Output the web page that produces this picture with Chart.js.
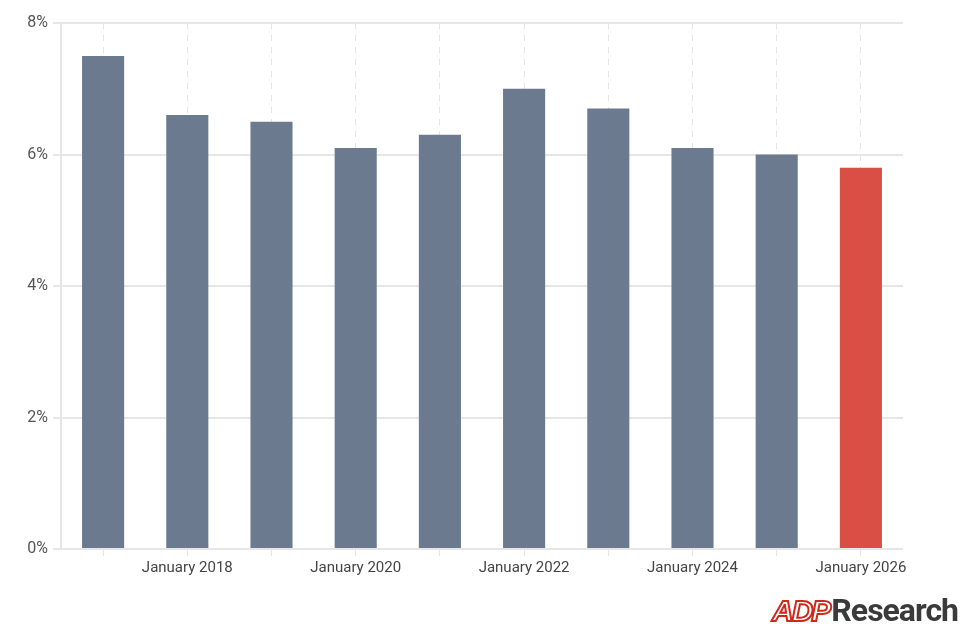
<!DOCTYPE html>
<html>
<head>
<meta charset="utf-8">
<script src="https://cdn.jsdelivr.net/npm/chart.js@4.4.1/dist/chart.umd.min.js"></script>
<style>
    html, body { margin: 0; padding: 0; background: #fff; }
    #wrap { position: relative; width: 969px; height: 636px; }
    #logo {
        position: absolute; left: 772px; top: 591px;
        font-family: Roboto, sans-serif; font-weight: 700; white-space: nowrap;
    }
    #logo .adp {
        color: #fff; font-style: italic; font-size: 30px; letter-spacing: -2px;
        -webkit-text-stroke: 2px #d0271d; font-family: "Liberation Sans", Arial, sans-serif;
        font-weight: 900;
    }
    #logo .res { color: #3a3a3a; font-size: 32px; letter-spacing: -1px; margin-left: 2px; }
</style>
</head>
<body>
<div id="wrap">
    <canvas id="chart" width="969" height="636"></canvas>
    <div id="logo"><span class="adp">ADP</span><span class="res">Research</span></div>
</div>
<script>
const years = ['January 2017', 'January 2018', 'January 2019', 'January 2020', 'January 2021',
               'January 2022', 'January 2023', 'January 2024', 'January 2025', 'January 2026'];
const values = [7.5, 6.6, 6.5, 6.1, 6.3, 7.0, 6.7, 6.1, 6.0, 5.8];
const yTicks = [0, 2, 4, 6, 8];

const barColors = values.map((v, i) => i === values.length - 1 ? '#d94f46' : '#6b7a8f');

const ctx = document.getElementById('chart').getContext('2d');
new Chart(ctx, {
    type: 'bar',
    data: {
        labels: years,
        datasets: [{
            data: values,
            backgroundColor: barColors,
            barPercentage: 0.5,
            categoryPercentage: 1.0,
        }],
    },
    options: {
        responsive: false,
        animation: false,
        layout: { padding: { top: 23, right: 66, bottom: 56, left: 0 } },
        plugins: { legend: { display: false }, tooltip: { enabled: false } },
        scales: {
            x: {
                offset: true,
                grid: {
                    color: '#e4e4e4',
                    lineWidth: 1,
                    tickLength: 7,
                    offset: false,
                },
                border: { display: false, dash: [6, 6] },
                ticks: {
                    autoSkip: false,
                    maxRotation: 0,
                    padding: 3,
                    color: '#444',
                    font: { family: 'Roboto', size: 15 },
                    callback: (val, i) => (i % 2 === 1 ? years[i] : ''),
                },
            },
            y: {
                min: 0,
                max: 8,
                afterBuildTicks: (scale) => { scale.ticks = yTicks.map(v => ({ value: v })); },
                afterFit: (scale) => { scale.width = 61; },
                grid: { color: '#e6e6e6', lineWidth: 2, tickLength: 8 },
                border: { display: true, color: '#e6e6e6', width: 2 },
                ticks: {
                    padding: 5,
                    color: '#555',
                    font: { family: 'Roboto', size: 16 },
                    callback: (v) => v + '%',
                },
            },
        },
    },
});
</script>
</body>
</html>
